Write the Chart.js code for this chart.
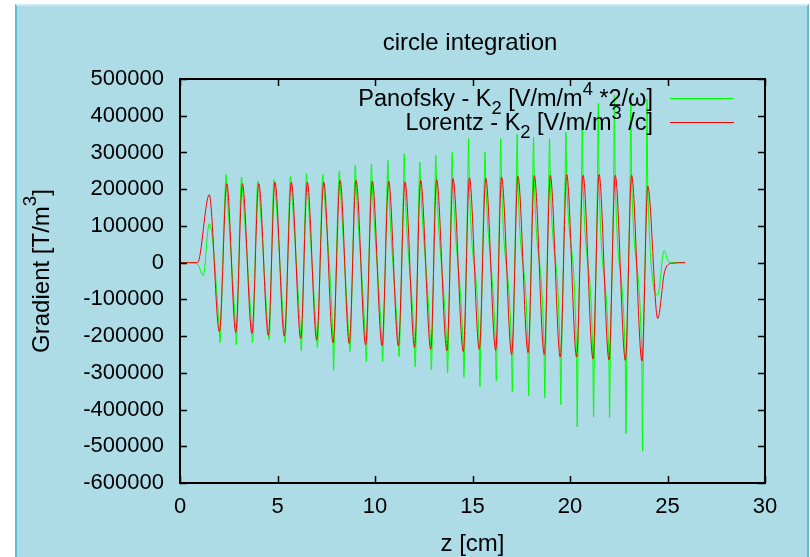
<!DOCTYPE html>
<html>
<head>
<meta charset="utf-8">
<script src="https://cdn.jsdelivr.net/npm/chart.js@4/dist/chart.umd.min.js"></script>
<style>
body{margin:0;background:#fff;width:810px;height:557px;overflow:hidden}
#frame{position:absolute;left:15px;top:4px;width:790px;height:560px;background:#addbe6;
border-left:2px solid #5fbdd2;border-right:2px solid #5fbdd2;border-top:2px solid #cfe9f0}
canvas{position:absolute;left:0;top:0}
</style>
</head>
<body>
<div id="frame"></div>
<canvas id="c" width="810" height="557"></canvas>
<script>
// z positions [cm] and gradient values
let lorZ=[0,0.90,1.50,2.02,2.40,2.86,3.20,3.69,4.04,4.53,4.87,5.35,5.71,6.19,6.53,7.01,7.37,7.85,8.21,8.68,9.03,
9.52,9.86,10.36,10.70,11.20,11.54,12.03,12.34,12.86,13.16,13.69,14.00,14.53,14.84,15.35,15.68,16.19,16.49,
17.01,17.33,17.85,18.17,18.68,18.99,19.50,19.83,20.34,20.67,21.18,21.49,22.00,22.32,22.84,23.16,23.69,23.99,
24.50,24.85,25.20,25.90]
let lorV=[0,0,185000,-188000,215000,-190000,215000,-193000,215000,-198000,219000,-200000,219000,-207000,219000,
-211000,219000,-218000,224000,-220000,224000,-224000,222000,-226000,222000,-226000,220000,-231000,224000,
-236000,226000,-240000,229000,-242000,231000,-236000,230000,-239000,233000,-250000,235000,-245000,237000,
-250000,238000,-257000,240000,-257000,238000,-262000,240000,-265000,238000,-266000,238000,-268000,208000,
-152000,-25000,-2000,0]

let panZ=[0,0.70,0.95,1.19,1.50,
2.01,2.05,2.09, 2.32,2.36,2.40, 2.85,2.89,2.93, 3.12,3.16,3.20,
3.68,3.72,3.76, 3.96,4.00,4.04, 4.52,4.56,4.60, 4.79,4.83,4.87,
5.34,5.38,5.42, 5.63,5.67,5.71, 6.18,6.22,6.26, 6.45,6.49,6.53,
7.00,7.04,7.08, 7.29,7.33,7.37, 7.84,7.88,7.92, 8.13,8.17,8.21,
8.67,8.71,8.75, 8.95,8.99,9.03, 9.51,9.55,9.59, 9.78,9.82,9.86,
10.35,10.39,10.43, 10.62,10.66,10.70, 11.19,11.23,11.27, 11.46,11.50,11.54,
12.02,12.06,12.10, 12.26,12.30,12.34, 12.85,12.89,12.93, 13.08,13.12,13.16,
13.68,13.72,13.76, 13.92,13.96,14.00, 14.52,14.56,14.60, 14.76,14.80,14.84,
15.34,15.38,15.42, 15.60,15.64,15.68, 16.18,16.22,16.26, 16.41,16.45,16.49,
17.00,17.04,17.08, 17.25,17.29,17.33, 17.84,17.88,17.92, 18.09,18.13,18.17,
18.67,18.71,18.75, 18.91,18.95,18.99, 19.49,19.53,19.57, 19.75,19.79,19.83,
20.33,20.37,20.41, 20.59,20.63,20.67, 21.17,21.21,21.25, 21.41,21.45,21.49,
21.99,22.03,22.07, 22.24,22.28,22.32, 22.83,22.87,22.91, 23.08,23.12,23.16,
23.68,23.72,23.76, 23.91,23.95,23.99,
24.50,24.83,25.05,25.30,25.90]
let panV=[0,0,-8000,-35500,106000,
-178000,-218000,-178000, 205000,240000,205000, -180000,-224000,-180000, 205000,233000,205000,
-183000,-218000,-183000, 205000,222000,205000, -188000,-210000,-188000, 209000,227000,209000,
-190000,-219000,-190000, 209000,235000,209000, -197000,-240000,-197000, 209000,242000,209000,
-201000,-231000,-201000, 209000,240000,209000, -208000,-293000,-208000, 214000,249000,214000,
-210000,-242000,-210000, 214000,265000,214000, -214000,-270000,-214000, 212000,268000,212000,
-216000,-270000,-216000, 212000,279000,212000, -216000,-256000,-216000, 210000,297000,210000,
-221000,-284000,-221000, 214000,274000,214000, -226000,-292000,-226000, 216000,292000,216000,
-230000,-300000,-230000, 219000,301000,219000, -232000,-313000,-232000, 221000,338000,221000,
-226000,-338000,-226000, 220000,301000,220000, -229000,-322000,-229000, 223000,338000,223000,
-240000,-352000,-240000, 225000,350000,225000, -235000,-363000,-235000, 227000,341000,227000,
-240000,-368000,-240000, 228000,338000,228000, -247000,-387000,-247000, 230000,356000,230000,
-247000,-447000,-247000, 228000,383000,228000, -252000,-421000,-252000, 230000,434000,230000,
-255000,-423000,-255000, 228000,456000,228000, -256000,-466000,-256000, 228000,461000,228000,
-258000,-514000,-258000, 198000,445000,198000,
-88000,33000,3000,0,0]

let xTicks=[0,5,10,15,20,25,30]
let yMin=-600000, yMax=500000, yStep=100000

let FONT='"Liberation Sans", Arial, Helvetica, sans-serif'
let FS=22     // tick labels
let TS=24     // title, axis titles
let LS=23.5   // key

Chart.defaults.font.family=FONT
Chart.defaults.font.size=FS
Chart.defaults.color='#000'

let box={left:180,right:765,top:79,bottom:483}

function pts(zs,vs){
return zs.map((z,i)=>({x:z,y:vs[i]}))
}

// text with sub/superscript pieces
function richWidth(ctx,parts,size){
let w=0
parts.forEach(p=>{
ctx.font=(p.s? size*0.78:size)+'px '+FONT
w+=ctx.measureText(p.t).width
})
return w
}
function drawRich(ctx,parts,x,y,size){
parts.forEach(p=>{
ctx.font=(p.s? size*0.78:size)+'px '+FONT
let dy=p.s=='sub'? size*0.32 : p.s=='sup'? -size*0.45 : 0
ctx.fillText(p.t,x,y+dy)
x+=ctx.measureText(p.t).width
})
}

let legendRows=[
{color:'#00ff00',y:98,parts:[{t:'Panofsky - K'},{t:'2',s:'sub'},{t:' [V/m/m'},{t:'4',s:'sup'},{t:' *2/ω]'}]},
{color:'#ff0000',y:122,parts:[{t:'Lorentz - K'},{t:'2',s:'sub'},{t:' [V/m/m'},{t:'3',s:'sup'},{t:' /c]'}]}
]

let gnuplotLook={
id:'gnuplotLook',
afterDraw(chart){
let ctx=chart.ctx
let xs=chart.scales.x, ys=chart.scales.y
let a=chart.chartArea
ctx.save()
ctx.strokeStyle='#000'
ctx.lineWidth=1.5
ctx.beginPath()
xTicks.forEach(v=>{
let px=Math.round(xs.getPixelForValue(v))+0.5
ctx.moveTo(px,a.bottom);ctx.lineTo(px,a.bottom-7)
ctx.moveTo(px,a.top);ctx.lineTo(px,a.top+7)
})
for(let v=yMin;v<=yMax;v+=yStep){
let py=Math.round(ys.getPixelForValue(v))+0.5
ctx.moveTo(a.left,py);ctx.lineTo(a.left+7,py)
ctx.moveTo(a.right,py);ctx.lineTo(a.right-7,py)
}
ctx.stroke()
ctx.lineWidth=2
ctx.strokeRect(a.left,a.top,a.right-a.left,a.bottom-a.top)

ctx.fillStyle='#000'
ctx.textBaseline='alphabetic'
ctx.textAlign='left'
legendRows.forEach(r=>{
let w=richWidth(ctx,r.parts,LS)
drawRich(ctx,r.parts,653-w,r.y+8,LS)
ctx.strokeStyle=r.color
ctx.lineWidth=1
ctx.beginPath()
ctx.moveTo(670,r.y+0.5);ctx.lineTo(734,r.y+0.5)
ctx.stroke()
})

ctx.font=TS+'px '+FONT
ctx.textAlign='center'
ctx.textBaseline='middle'
ctx.fillText('circle integration',470,43)
ctx.fillText('z [cm]',(a.left+a.right)/2,544)

let yl=[{t:'Gradient [T/m'},{t:'3',s:'sup'},{t:']'}]
ctx.translate(42,271)
ctx.rotate(-Math.PI/2)
ctx.textAlign='left'
ctx.textBaseline='middle'
drawRich(ctx,yl,-richWidth(ctx,yl,TS)/2,0,TS)
ctx.restore()
}
}

new Chart(document.getElementById('c'),{
type:'line',
data:{datasets:[
{label:'Lorentz',data:pts(lorZ,lorV),borderColor:'#ff0000',borderWidth:1,pointRadius:0,cubicInterpolationMode:'monotone'},
{label:'Panofsky',data:pts(panZ,panV),borderColor:'#00ff00',borderWidth:1,pointRadius:0,cubicInterpolationMode:'monotone'}
]},
options:{
responsive:false,
animation:false,
layout:{padding:{left:0,top:box.top,right:810-box.right,bottom:0}},
plugins:{legend:{display:false},tooltip:{enabled:false}},
scales:{
x:{type:'linear',min:0,max:30,
ticks:{stepSize:5,padding:11,maxRotation:0,callback:v=>String(v)},
grid:{display:false,drawTicks:false},border:{display:false},
afterFit:s=>{s.height=557-box.bottom}},
y:{min:yMin,max:yMax,
ticks:{stepSize:yStep,padding:16,callback:v=>String(v)},
grid:{display:false,drawTicks:false},border:{display:false},
afterFit:s=>{s.width=box.left}}
}
},
plugins:[gnuplotLook]
})
</script>
</body>
</html>
